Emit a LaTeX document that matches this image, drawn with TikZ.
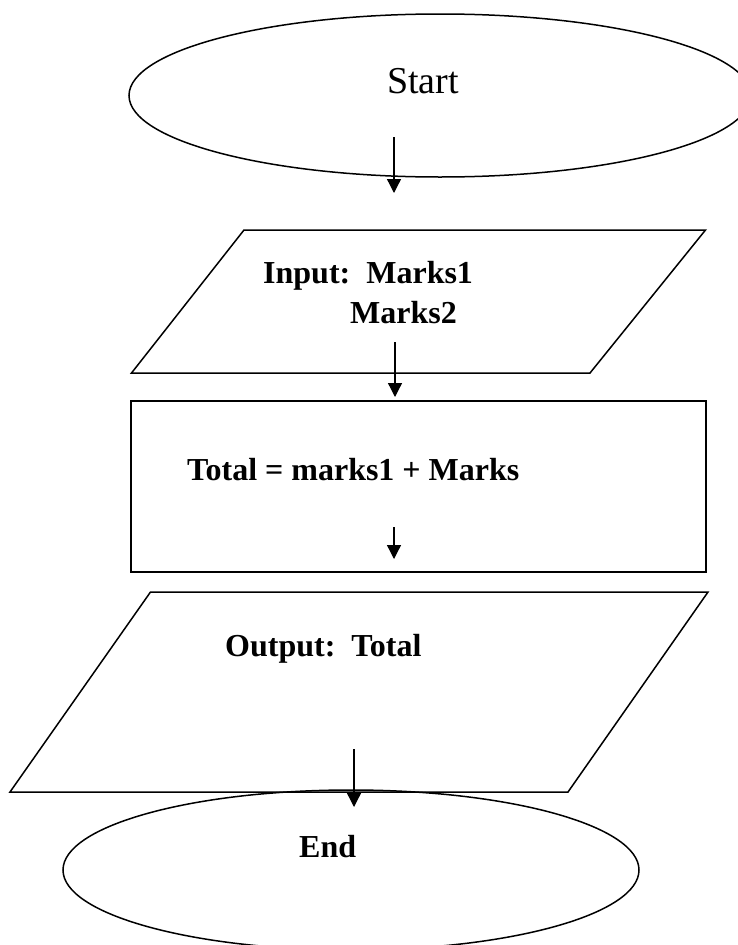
\documentclass[tikz,border=0pt]{standalone}
\usepackage{fontspec}
\setmainfont{Liberation Serif}
\usetikzlibrary{shapes.geometric,arrows.meta}
\begin{document}
\begin{tikzpicture}[x=1pt,y=-1pt,
  shapeline/.style={draw=black,line width=1.5pt},
  arr/.style={draw=black,line width=1.3pt,-{Triangle[length=14pt,width=14pt]}},
  boldtxt/.style={inner sep=0pt,anchor=base west,font=\fontsize{32}{38}\selectfont\bfseries},
  regtxt/.style={inner sep=0pt,anchor=base west,font=\fontsize{38}{44}\selectfont}]
\useasboundingbox (0,0) rectangle (738,945);
\clip (0,0) rectangle (738,945);
% Start
\node[shapeline,ellipse,minimum width=622pt,minimum height=163pt,inner sep=0pt] (start) at (440,95.5) {};
\node[regtxt] (starttxt) at (387,93) {Start};
\coordinate (a1s) at (394,137); \coordinate (a1e) at (394,193);
\draw[arr] (a1s) -- (a1e);
% Input
\coordinate (inTL) at (244,230); \coordinate (inTR) at (705.5,230);
\coordinate (inBR) at (590,373); \coordinate (inBL) at (131.5,373);
\draw[shapeline,line join=miter] (inTL) -- (inTR) -- (inBR) -- (inBL) -- cycle;
\node[boldtxt] (intxt1) at (263,283) {Input:\ \ Marks1};
\node[boldtxt] (intxt2) at (350,323) {Marks2};
\coordinate (a2s) at (395,342); \coordinate (a2e) at (395,397);
\draw[arr] (a2s) -- (a2e);
% Process
\coordinate (prTL) at (131,401); \coordinate (prBR) at (706,572);
\draw[shapeline] (prTL) rectangle (prBR);
\node[boldtxt] (prtxt) at (187,480) {Total = marks1 + Marks};
\coordinate (a3s) at (394,527); \coordinate (a3e) at (394,559);
\draw[arr] (a3s) -- (a3e);
% Output
\coordinate (outTL) at (150.5,592); \coordinate (outTR) at (708,592);
\coordinate (outBR) at (568,792); \coordinate (outBL) at (10,792);
\draw[shapeline,line join=miter] (outTL) -- (outTR) -- (outBR) -- (outBL) -- cycle;
\node[boldtxt] (outtxt) at (225,656) {Output:\ \ Total};
% End
\node[shapeline,ellipse,minimum width=576pt,minimum height=160pt,inner sep=0pt] (end) at (351,870) {};
\node[boldtxt] (endtxt) at (299,857) {End};
\coordinate (a4s) at (354,749); \coordinate (a4e) at (354,807);
\draw[arr] (a4s) -- (a4e);
\end{tikzpicture}
\end{document}
